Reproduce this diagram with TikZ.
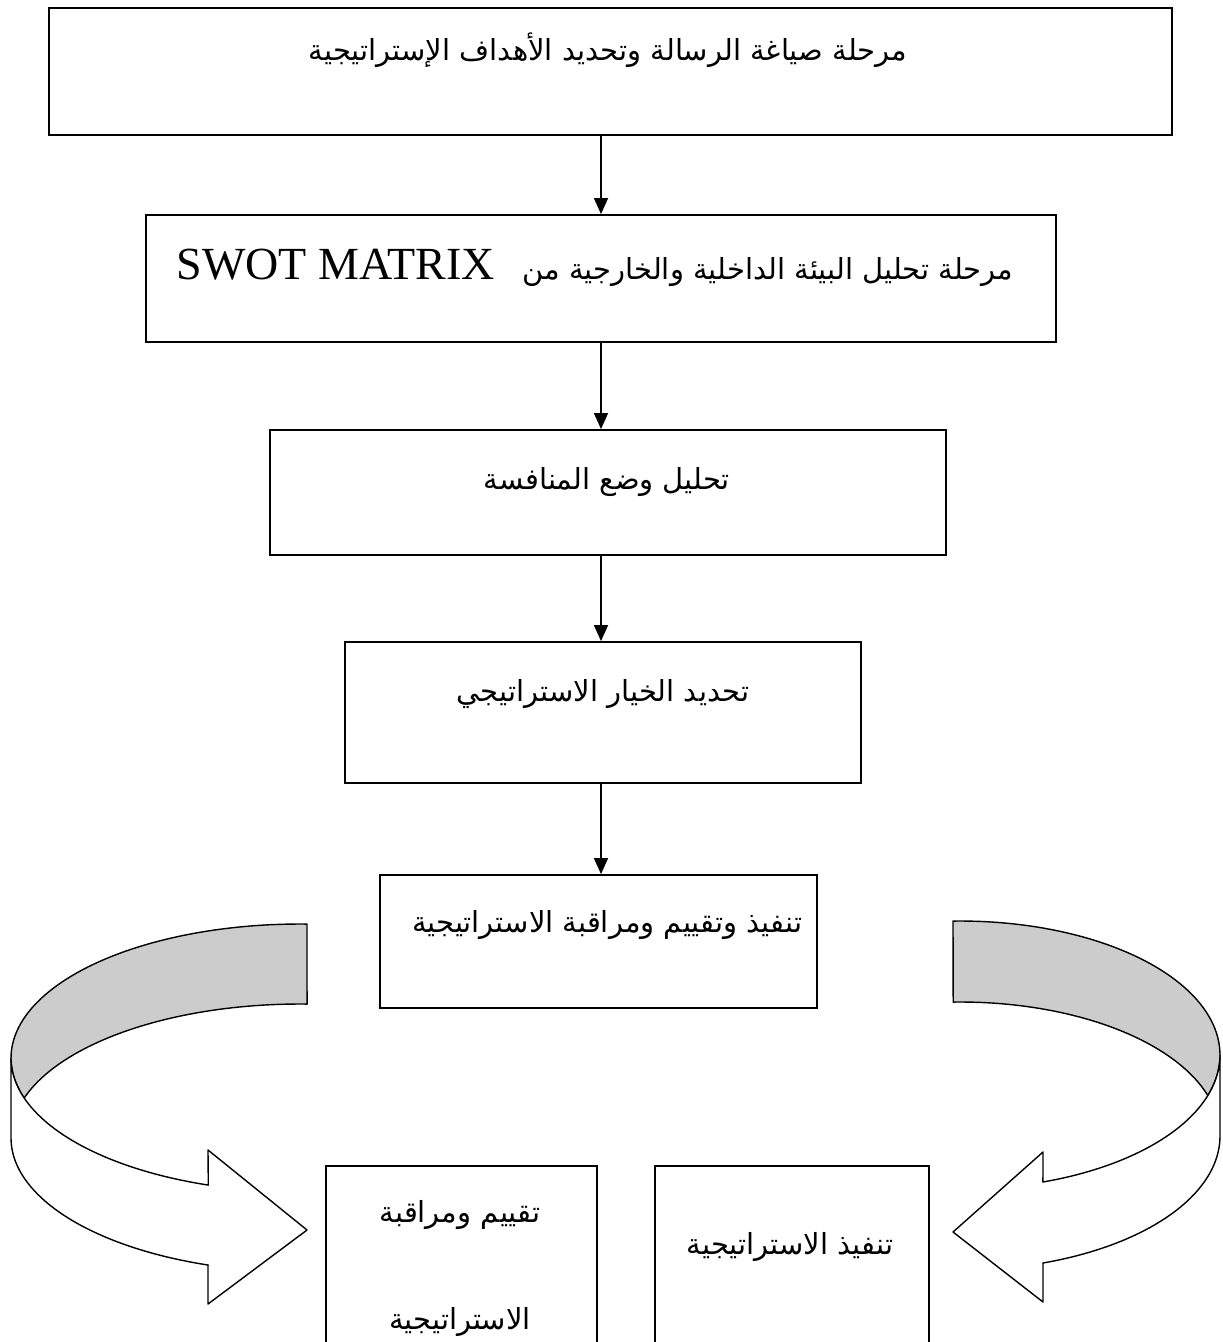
\documentclass[tikz,border=0pt]{standalone}
\usepackage{fontspec}
\setmainfont{Liberation Serif}
\newfontfamily\arabicfont[Script=Arabic]{DejaVu Sans}
\TeXXeTstate=1
\usetikzlibrary{arrows.meta}

\tikzset{
  stagebox/.style={draw=black, line width=1.8pt, fill=white, inner sep=0pt},
  label ar/.style={inner sep=0pt, font=\arabicfont\fontsize{29}{34}\selectfont},
  flow/.style={line width=1.3pt, -{Triangle[length=16pt,width=14pt]}},
  ribbon/.style={draw=black, line width=1.4pt, line join=round},
}

\begin{document}
\begin{tikzpicture}[x=1pt, y=-1pt]
\useasboundingbox (0,0) rectangle (1223,1342);
\clip (0,0) rectangle (1223,1342);
\fill[white] (0,0) rectangle (1223,1342);

% stage boxes (x from left edge, y downward)
\node[stagebox, minimum width=1123pt, minimum height=127pt] (b1) at (610.5,71.5) {};
\node[stagebox, minimum width=910pt, minimum height=127pt] (b2) at (601,278.5) {};
\node[stagebox, minimum width=676pt, minimum height=125pt] (b3) at (608,492.5) {};
\node[stagebox, minimum width=516pt, minimum height=141pt] (b4) at (603,712.5) {};
\node[stagebox, minimum width=437pt, minimum height=133pt] (b5) at (598.5,941.5) {};
\node[stagebox, minimum width=271pt, minimum height=220pt] (b6) at (461.5,1276) {};
\node[stagebox, minimum width=274pt, minimum height=220pt] (b7) at (792,1276) {};

% labels
\node[label ar] (t1) at (608,50) {\beginR مرحلة صياغة الرسالة وتحديد الأهداف الإستراتيجية\endR};
\node[label ar] (t2) at (595,268) {\beginR مرحلة تحليل البيئة الداخلية والخارجية من \ \ \beginL{\rmfamily\fontsize{46}{52}\selectfont SWOT MATRIX}\endL\endR};
\node[label ar] (t3) at (607,482) {\beginR تحليل وضع المنافسة\endR};
\node[label ar] (t4) at (603,694) {\beginR تحديد الخيار الاستراتيجي\endR};
\node[label ar] (t5) at (607,925) {\beginR تنفيذ وتقييم ومراقبة الاستراتيجية\endR};
\node[label ar] (t6) at (460,1215) {\beginR تقييم ومراقبة\endR};
\node[label ar] (t7) at (460,1322) {\beginR الاستراتيجية\endR};
\node[label ar] (t8) at (790,1247) {\beginR تنفيذ الاستراتيجية\endR};

% vertical connectors
\coordinate (ax) at (601,0);
\draw[flow] (b1.south -| ax) -- (b2.north -| ax);
\draw[flow] (b2.south -| ax) -- (b3.north -| ax);
\draw[flow] (b3.south -| ax) -- (b4.north -| ax);
\draw[flow] (b4.south -| ax) -- (b5.north -| ax);

% left curved ribbon arrow: back (shaded) part
\path[ribbon, fill=gray!40]
  (307,924) -- plot[domain=88.6:180, samples=50] ({300+289*cos(\x)}, {1058-134*sin(\x)})
  -- plot[domain=180:197.4, samples=20] ({300+289*cos(\x)}, {1058-134*sin(\x)})
  -- plot[domain=162.6:88.6, samples=50] ({300+289*cos(\x)}, {1138-134*sin(\x)})
  -- cycle;
% left curved ribbon arrow: front part with head
\path[ribbon, fill=white]
  (11,1058) -- plot[domain=180:251.5, samples=50] ({300+289*cos(\x)}, {1058-134*sin(\x)})
  -- (208,1150) -- (307,1230) -- (208,1304) -- (208,1265)
  -- plot[domain=251.5:180, samples=50] ({300+289*cos(\x)}, {1138-134*sin(\x)})
  -- cycle;

% right curved ribbon arrow: back (shaded) part
\path[ribbon, fill=gray!40]
  (953,921) -- plot[domain=91.5:0, samples=50] ({960+260*cos(\x)}, {1055-134*sin(\x)})
  -- plot[domain=0:-17.6, samples=20] ({960+260*cos(\x)}, {1055-134*sin(\x)})
  -- plot[domain=17.6:91.5, samples=50] ({960+260*cos(\x)}, {1136-134*sin(\x)})
  -- cycle;
% right curved ribbon arrow: front part with head
\path[ribbon, fill=white]
  (1220,1055) -- plot[domain=0:-71.4, samples=50] ({960+260*cos(\x)}, {1055-134*sin(\x)})
  -- (1043,1152) -- (953,1232) -- (1043,1302) -- (1043,1263)
  -- plot[domain=-71.4:0, samples=50] ({960+260*cos(\x)}, {1136-134*sin(\x)})
  -- cycle;
\end{tikzpicture}
\end{document}
